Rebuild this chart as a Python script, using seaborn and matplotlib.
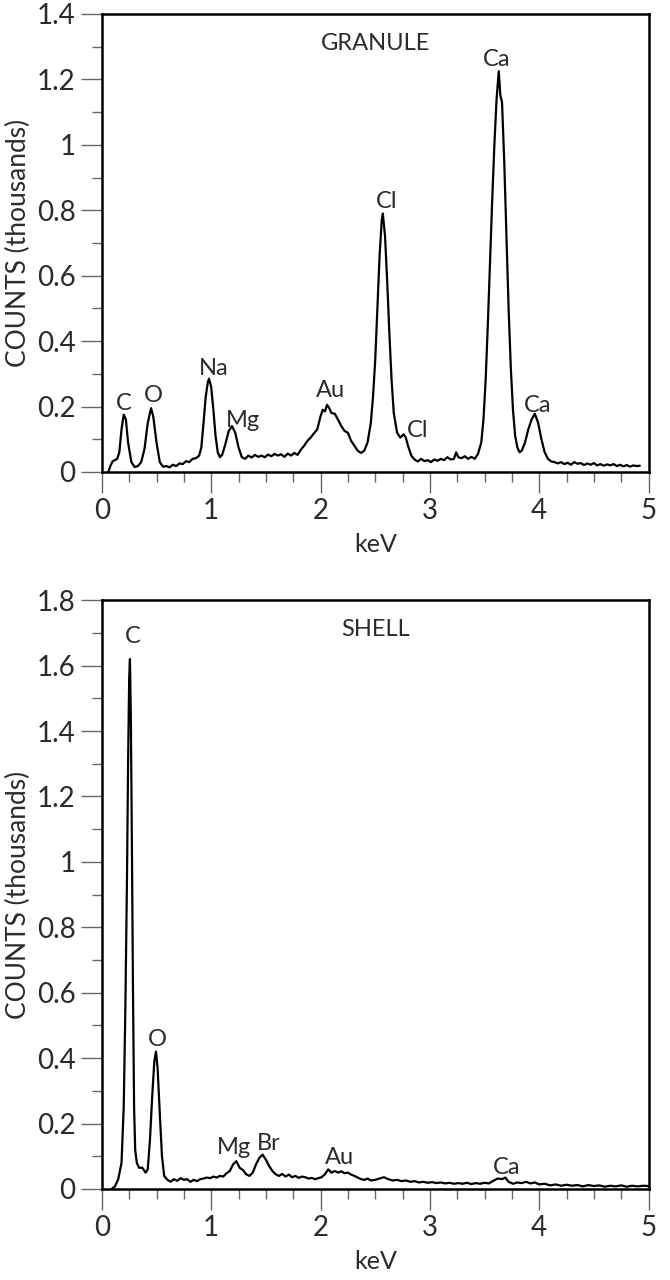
import matplotlib
matplotlib.use("Agg")
import matplotlib.pyplot as plt
from matplotlib.ticker import MultipleLocator, FuncFormatter
import seaborn as sns
import pandas as pd

# granule spectrum (keV, counts in thousands)
granule_kev = [0.06, 0.08, 0.10, 0.12, 0.14, 0.16, 0.18, 0.20, 0.22, 0.24, 0.27, 0.30, 0.33, 0.36, 0.39,
               0.42, 0.45, 0.47, 0.50, 0.53, 0.56, 0.59, 0.62, 0.65, 0.68, 0.71, 0.74, 0.77, 0.80, 0.83,
               0.86, 0.89, 0.91, 0.93, 0.95, 0.97, 0.98, 1.00, 1.02, 1.04, 1.06, 1.08, 1.10, 1.13, 1.16,
               1.19, 1.22, 1.25, 1.28, 1.31, 1.34, 1.37, 1.40, 1.43, 1.46, 1.49, 1.52, 1.55, 1.58, 1.61,
               1.64, 1.67, 1.70, 1.73, 1.76, 1.79, 1.82, 1.85, 1.88, 1.91, 1.94, 1.97, 2.00, 2.02, 2.04,
               2.06, 2.08, 2.10, 2.13, 2.16, 2.19, 2.22, 2.25, 2.28, 2.31, 2.34, 2.37, 2.40, 2.43, 2.46,
               2.48, 2.50, 2.52, 2.54, 2.56, 2.57, 2.59, 2.61, 2.63, 2.65, 2.67, 2.70, 2.73, 2.76, 2.78,
               2.80, 2.83, 2.86, 2.89, 2.92, 2.95, 2.98, 3.01, 3.04, 3.07, 3.10, 3.13, 3.16, 3.19, 3.22,
               3.24, 3.26, 3.29, 3.32, 3.35, 3.38, 3.41, 3.44, 3.47, 3.49, 3.51, 3.53, 3.55, 3.57, 3.59,
               3.61, 3.63, 3.645, 3.66, 3.68, 3.70, 3.72, 3.74, 3.76, 3.78, 3.80, 3.82, 3.84, 3.87, 3.90,
               3.93, 3.96, 3.99, 4.02, 4.05, 4.08, 4.11, 4.14, 4.17, 4.20, 4.23, 4.26, 4.29, 4.32, 4.35,
               4.38, 4.41, 4.44, 4.47, 4.50, 4.53, 4.56, 4.59, 4.62, 4.65, 4.68, 4.71, 4.74, 4.77, 4.80,
               4.83, 4.86, 4.89, 4.92]
granule_counts = [0.000, 0.020, 0.033, 0.036, 0.040, 0.060, 0.130, 0.175, 0.160, 0.090, 0.030, 0.015, 0.018, 0.030, 0.070,
                  0.150, 0.195, 0.170, 0.090, 0.030, 0.016, 0.018, 0.014, 0.022, 0.018, 0.026, 0.024, 0.033, 0.030, 0.040,
                  0.042, 0.050, 0.075, 0.150, 0.230, 0.275, 0.285, 0.260, 0.190, 0.110, 0.060, 0.045, 0.052, 0.085, 0.125,
                  0.140, 0.120, 0.075, 0.045, 0.040, 0.050, 0.044, 0.052, 0.046, 0.050, 0.045, 0.053, 0.048, 0.055, 0.050,
                  0.054, 0.046, 0.056, 0.050, 0.058, 0.052, 0.068, 0.080, 0.095, 0.105, 0.118, 0.130, 0.170, 0.190, 0.185,
                  0.205, 0.195, 0.180, 0.178, 0.160, 0.140, 0.125, 0.120, 0.095, 0.080, 0.065, 0.058, 0.065, 0.090, 0.150,
                  0.230, 0.340, 0.500, 0.660, 0.770, 0.790, 0.720, 0.580, 0.420, 0.280, 0.180, 0.120, 0.105, 0.115, 0.105,
                  0.080, 0.050, 0.038, 0.032, 0.040, 0.033, 0.036, 0.030, 0.038, 0.034, 0.040, 0.036, 0.045, 0.038, 0.040,
                  0.060, 0.045, 0.042, 0.048, 0.040, 0.046, 0.040, 0.055, 0.090, 0.160, 0.280, 0.450, 0.640, 0.830, 1.000,
                  1.140, 1.225, 1.150, 1.130, 0.950, 0.720, 0.500, 0.320, 0.190, 0.110, 0.075, 0.060, 0.065, 0.090, 0.130,
                  0.160, 0.178, 0.150, 0.100, 0.060, 0.040, 0.032, 0.030, 0.026, 0.030, 0.024, 0.028, 0.022, 0.030, 0.025,
                  0.027, 0.021, 0.026, 0.022, 0.027, 0.020, 0.024, 0.019, 0.023, 0.020, 0.024, 0.018, 0.022, 0.017, 0.021,
                  0.016, 0.020, 0.018, 0.019]

# shell spectrum
shell_kev = [0.09, 0.12, 0.15, 0.18, 0.20, 0.215, 0.23, 0.24, 0.25, 0.257, 0.265, 0.275, 0.285, 0.295, 0.305,
             0.32, 0.34, 0.37, 0.40, 0.42, 0.44, 0.46, 0.48, 0.495, 0.51, 0.53, 0.55, 0.57, 0.60, 0.63,
             0.66, 0.69, 0.72, 0.75, 0.78, 0.81, 0.84, 0.87, 0.90, 0.93, 0.96, 0.99, 1.02, 1.05, 1.08,
             1.11, 1.14, 1.17, 1.20, 1.23, 1.26, 1.29, 1.32, 1.35, 1.38, 1.41, 1.44, 1.47, 1.50, 1.53,
             1.56, 1.59, 1.62, 1.65, 1.68, 1.71, 1.74, 1.77, 1.80, 1.83, 1.86, 1.89, 1.92, 1.95, 1.98,
             2.01, 2.04, 2.07, 2.10, 2.13, 2.16, 2.19, 2.22, 2.25, 2.28, 2.31, 2.34, 2.37, 2.40, 2.43,
             2.46, 2.50, 2.54, 2.58, 2.62, 2.66, 2.70, 2.74, 2.78, 2.82, 2.86, 2.90, 2.94, 2.98, 3.02,
             3.06, 3.10, 3.14, 3.18, 3.22, 3.26, 3.30, 3.34, 3.38, 3.42, 3.46, 3.50, 3.54, 3.58, 3.62,
             3.66, 3.69, 3.72, 3.76, 3.80, 3.84, 3.88, 3.92, 3.96, 4.00, 4.05, 4.10, 4.15, 4.20, 4.25,
             4.30, 4.35, 4.40, 4.45, 4.50, 4.55, 4.60, 4.65, 4.70, 4.75, 4.80, 4.85, 4.90, 4.95, 5.00]
shell_counts = [0.000, 0.008, 0.030, 0.080, 0.250, 0.550, 0.950, 1.300, 1.560, 1.620, 1.450, 1.050, 0.600, 0.250, 0.120,
                0.080, 0.065, 0.065, 0.050, 0.060, 0.150, 0.280, 0.390, 0.420, 0.370, 0.230, 0.100, 0.040, 0.028, 0.022,
                0.030, 0.025, 0.033, 0.028, 0.030, 0.022, 0.028, 0.024, 0.030, 0.032, 0.035, 0.033, 0.038, 0.035, 0.040,
                0.038, 0.048, 0.055, 0.075, 0.085, 0.065, 0.058, 0.045, 0.040, 0.050, 0.075, 0.095, 0.105, 0.090, 0.070,
                0.055, 0.045, 0.040, 0.046, 0.038, 0.044, 0.036, 0.040, 0.034, 0.038, 0.036, 0.032, 0.034, 0.030, 0.033,
                0.036, 0.045, 0.060, 0.050, 0.055, 0.050, 0.054, 0.048, 0.050, 0.044, 0.040, 0.035, 0.030, 0.028, 0.032,
                0.026, 0.028, 0.032, 0.036, 0.030, 0.026, 0.028, 0.024, 0.026, 0.022, 0.024, 0.020, 0.022, 0.019, 0.021,
                0.018, 0.020, 0.017, 0.019, 0.016, 0.018, 0.016, 0.019, 0.015, 0.018, 0.016, 0.019, 0.017, 0.025, 0.032,
                0.030, 0.035, 0.022, 0.016, 0.020, 0.018, 0.022, 0.017, 0.020, 0.014, 0.016, 0.011, 0.014, 0.010, 0.013,
                0.010, 0.012, 0.008, 0.012, 0.009, 0.011, 0.007, 0.010, 0.008, 0.011, 0.007, 0.010, 0.008, 0.010, 0.009]

# peak labels: element, keV position, label height
granule_labels = ["C", "O", "Na", "Mg", "Au", "Cl", "Cl", "Ca", "Ca"]
granule_label_x = [0.20, 0.47, 1.02, 1.29, 2.09, 2.60, 2.89, 3.61, 3.99]
granule_label_y = [0.21, 0.235, 0.316, 0.158, 0.25, 0.826, 0.127, 1.26, 0.204]

shell_labels = ["C", "O", "Mg", "Br", "Au", "Ca"]
shell_label_x = [0.28, 0.51, 1.21, 1.53, 2.17, 3.70]
shell_label_y = [1.69, 0.457, 0.127, 0.14, 0.096, 0.067]

sns.set_style("ticks")
plt.rcParams["font.family"] = ["Lato", "DejaVu Sans"]

fig = plt.figure(figsize=(6.7, 12.8), dpi=100)
ax1 = fig.add_axes([0.152, 0.6313, 0.816, 0.3578])
ax2 = fig.add_axes([0.152, 0.0711, 0.816, 0.460])

panels = [
    (ax1, granule_kev, granule_counts, granule_labels, granule_label_x, granule_label_y, "GRANULE", 1.4, 1.31),
    (ax2, shell_kev, shell_counts, shell_labels, shell_label_x, shell_label_y, "SHELL", 1.8, 1.71),
]

txt = "#2b2b2b"
for ax, kev, counts, labs, lx, ly, title, ymax, ty in panels:
    df = pd.DataFrame({"keV": kev, "counts": counts})
    sns.lineplot(data=df, x="keV", y="counts", ax=ax, color="black", linewidth=1.6)
    ax.set_xlim(0, 5)
    ax.set_ylim(0, ymax)
    ax.xaxis.set_major_locator(MultipleLocator(1))
    ax.xaxis.set_minor_locator(MultipleLocator(0.25))
    ax.yaxis.set_major_locator(MultipleLocator(0.2))
    ax.yaxis.set_minor_locator(MultipleLocator(0.1))
    ax.yaxis.set_major_formatter(FuncFormatter(lambda v, p: "%g" % round(v, 2)))
    ax.tick_params(which="major", length=15, width=1, color="#666", labelsize=20,
                   labelcolor=txt, pad=4)
    ax.tick_params(which="minor", length=7, width=1, color="#666")
    for s in ax.spines.values():
        s.set_visible(True)
        s.set_linewidth(1.8)
        s.set_color("black")
    ax.set_xlabel("keV", fontsize=18, color=txt, labelpad=6)
    ax.set_ylabel("COUNTS (thousands)", fontsize=19, color=txt, labelpad=4)
    ax.text(2.5, ty, title, ha="center", va="center", fontsize=17, color=txt)
    for s, x, y in zip(labs, lx, ly):
        ax.text(x, y, s, ha="center", va="center", fontsize=17, color=txt)

fig.savefig("out.png", dpi=100)
